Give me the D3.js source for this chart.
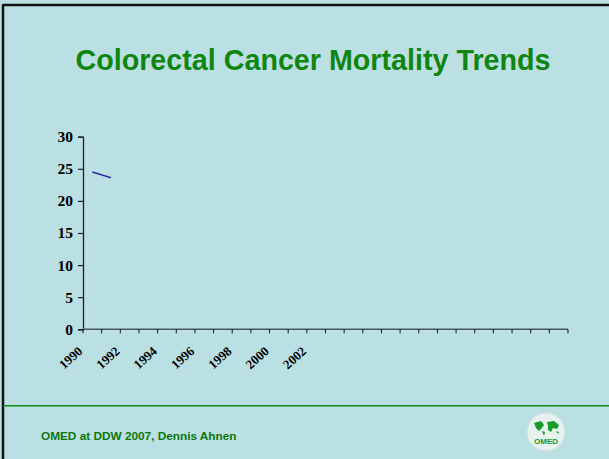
<!DOCTYPE html>
<html><head><meta charset="utf-8">
<script src="https://cdn.jsdelivr.net/npm/d3@7"></script>
<style>html,body{margin:0;padding:0;background:#bbe0e3;overflow:hidden}</style>
</head><body>
<script>
const years = ["1990","1991","1992","1993","1994","1995","1996","1997","1998","1999","2000","2001","2002",
  "2003","2004","2005","2006","2007","2008","2009","2010","2011","2012","2013","2014","2015"];
const mortality = [24.5, 23.6, null, null, null, null, null, null, null, null, null, null, null,
  null, null, null, null, null, null, null, null, null, null, null, null, null];
const xTickLabels = ["1990","1992","1994","1996","1998","2000","2002"];
const yTicks = [0, 5, 10, 15, 20, 25, 30];
const title = "Colorectal Cancer Mortality Trends";
const footer = "OMED at DDW 2007, Dennis Ahnen";

const W = 609, H = 459;
const svg = d3.select("body").append("svg").attr("width", W).attr("height", H);
svg.append("rect").attr("width", W).attr("height", H).attr("fill", "#bbe0e3");
// frame
svg.append("line").attr("x1", 3).attr("x2", W).attr("y1", 5).attr("y2", 5).attr("stroke", "#111").attr("stroke-width", 2.5);
svg.append("line").attr("x1", 3).attr("x2", 3).attr("y1", 4).attr("y2", H).attr("stroke", "#111").attr("stroke-width", 2.5);

svg.append("text").attr("x", 313).attr("y", 70).attr("text-anchor", "middle")
  .attr("font-family", "Liberation Sans, Arial, sans-serif").attr("font-weight", "bold")
  .attr("font-size", 28.7).attr("fill", "#108510").text(title);

const x = d3.scaleBand().domain(years).range([83, 568]);
const y = d3.scaleLinear().domain([0, 30]).range([329.3, 136.7]);

// y axis
const gy = svg.append("g").attr("transform", "translate(83,0)")
  .call(d3.axisLeft(y).tickValues(yTicks).tickSize(5).tickPadding(5));
gy.select(".domain").attr("stroke", "#222").attr("stroke-width", 1.3);
gy.selectAll(".tick line").attr("stroke", "#222").attr("stroke-width", 1.2);
gy.selectAll("text").attr("font-family", "Liberation Serif, Times New Roman, serif")
  .attr("font-weight", "bold").attr("font-size", 15.5).attr("fill", "#000");

// x axis
const gx = svg.append("g").attr("transform", "translate(0,329.3)");
gx.append("line").attr("x1", 83).attr("x2", 568).attr("stroke", "#4a5a5c").attr("stroke-width", 1.6);
const bounds = years.map(d => x(d)).concat([x.range()[1]]);
gx.selectAll("line.t").data(bounds).join("line").attr("class", "t")
  .attr("x1", d => d).attr("x2", d => d).attr("y1", 0).attr("y2", 4)
  .attr("stroke", "#111").attr("stroke-width", 1);
gx.selectAll("text").data(xTickLabels).join("text")
  .attr("transform", d => `translate(${x(d) + x.bandwidth()/2 - 9},${23}) rotate(-42)`)
  .attr("text-anchor", "end")
  .attr("font-family", "Liberation Serif, Times New Roman, serif").attr("font-weight", "bold")
  .attr("font-size", 13).attr("fill", "#000").text(d => d);

// series line
const line = d3.line().defined(d => d.v != null)
  .x(d => x(d.yr) + x.bandwidth()/2).y(d => y(d.v));
svg.append("path").datum(years.map((yr, i) => ({yr, v: mortality[i]})))
  .attr("d", line).attr("fill", "none").attr("stroke", "#2b2b9c").attr("stroke-width", 1.5);

// footer
svg.append("line").attr("x1", 3).attr("x2", W).attr("y1", 405.7).attr("y2", 405.7)
  .attr("stroke", "#128a12").attr("stroke-width", 1.5);
svg.append("text").attr("x", 41).attr("y", 439.5)
  .attr("font-family", "Liberation Sans, Arial, sans-serif").attr("font-weight", "bold")
  .attr("font-size", 11.8).attr("fill", "#0c760c").text(footer);

// logo
const lg = svg.append("g").attr("transform", "translate(546,432)");
lg.append("circle").attr("r", 19).attr("fill", "#e6f2ee").attr("stroke", "#cfe3dc").attr("stroke-width", 1);
lg.append("path").attr("d", "M-12,-9 L-5,-11 L-2,-7 L-5,-3 L-7,-1 L-10,-4 Z M-4,-1 L-1,0 L-2,4 Z M1,-10 L8,-11 L13,-7 L11,-3 L7,-4 L5,0 L2,-2 L2,-6 Z M10,-1 L13,0 L12,2 Z")
  .attr("fill", "#1a9a2a");
lg.append("text").attr("y", 12).attr("text-anchor", "middle")
  .attr("font-family", "Liberation Sans, Arial, sans-serif").attr("font-weight", "bold")
  .attr("font-size", 8).attr("fill", "#1a9a2a").text("OMED");
</script>
</body></html>
